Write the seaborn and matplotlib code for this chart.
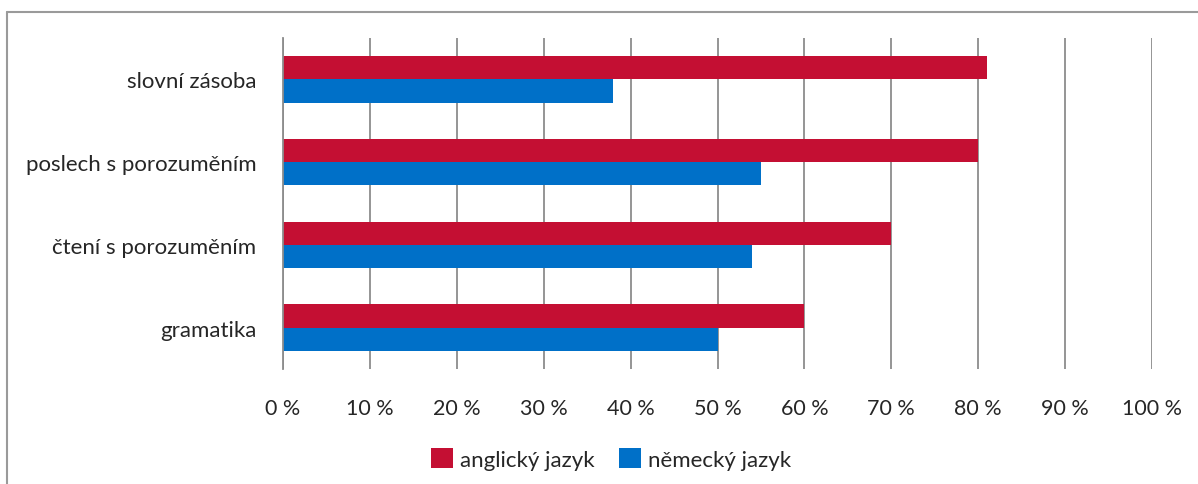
import numpy as np
import pandas as pd
import matplotlib
matplotlib.use("Agg")
import matplotlib.pyplot as plt
import seaborn as sns
from matplotlib.patches import Patch

#------------ data ------------
categories = ["slovní zásoba", "poslech s porozuměním", "čtení s porozuměním", "gramatika"]
anglicky = [81, 80, 70, 60]
nemecky = [38, 55, 54, 50]
series_names = ["anglický jazyk", "německý jazyk"]
x_ticks = [0, 10, 20, 30, 40, 50, 60, 70, 80, 90, 100]

df = pd.DataFrame({
    "kategorie": categories * 2,
    "hodnota": anglicky + nemecky,
    "jazyk": [series_names[0]] * 4 + [series_names[1]] * 4,
})

sns.set_style("white")
plt.rcParams["font.family"] = ["Lato", "DejaVu Sans"]

colors = ["#C40F33", "#0070C8"]
grid_c = "#8C8C8C"

fig = plt.figure(figsize=(11.98, 4.85), dpi=100)
ax = fig.add_axes([283 / 1198, 1 - 370 / 485, (1152 - 283) / 1198, (370 - 39) / 485])

sns.barplot(data=df, y="kategorie", x="hodnota", hue="jazyk", order=categories,
            hue_order=series_names, palette=colors, width=0.56, orient="h",
            saturation=1, legend=False, linewidth=0, ax=ax)

ax.set_xlim(0, 100)
ax.set_ylim(3.5, -0.5)
ax.set_xticks(x_ticks)
ax.set_xticklabels([f"{v} %" for v in x_ticks], fontsize=15.5)
ax.set_xlabel("")
ax.set_ylabel("")
ax.tick_params(axis="x", length=0, pad=21)
ax.tick_params(axis="y", which="major", length=0, pad=19, labelsize=16)
ax.set_yticks(np.arange(-0.5, 4, 1), minor=True)
ax.tick_params(axis="y", which="minor", length=6, width=1.2, color=grid_c)

ax.xaxis.grid(True, color=grid_c, linewidth=1.3)
ax.set_axisbelow(True)
for s in ["top", "right", "bottom"]:
    ax.spines[s].set_visible(False)
ax.spines["left"].set_color(grid_c)
ax.spines["left"].set_linewidth(1.3)

handles = [Patch(facecolor=c, edgecolor="none") for c in colors]
fig.legend(handles, series_names, loc="center", bbox_to_anchor=(611 / 1198, 1 - 460 / 485),
           ncol=2, frameon=False, fontsize=16, handlelength=1.0, handleheight=1.0,
           handletextpad=0.3, columnspacing=1.1)

# outer chart frame
fig.add_artist(plt.Line2D([7 / 1198, 7 / 1198], [0, 1 - 13 / 485], color="#9A9A9A",
                          linewidth=1.5, transform=fig.transFigure))
fig.add_artist(plt.Line2D([7 / 1198, 1], [1 - 13 / 485, 1 - 13 / 485], color="#9A9A9A",
                          linewidth=1.5, transform=fig.transFigure))

fig.savefig("out.png", dpi=100)
